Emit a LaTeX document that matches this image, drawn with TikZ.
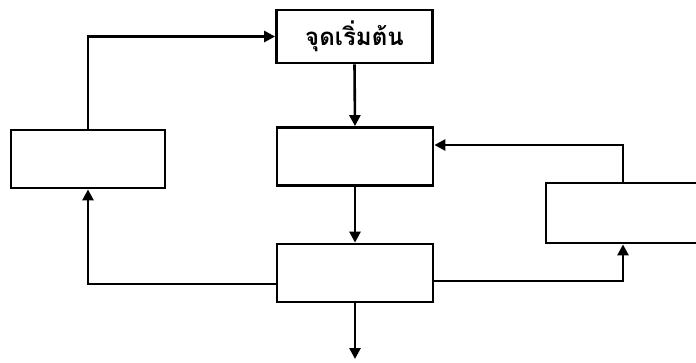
\documentclass[tikz,border=0pt]{standalone}
\usepackage{fontspec}
\newfontfamily\thaifont[Script=Thai]{Loma}
\usetikzlibrary{arrows.meta}
\begin{document}
\begin{tikzpicture}[x=1pt,y=-1pt,
  box/.style={draw,line width=2.8pt,minimum width=156pt,minimum height=58pt,inner sep=0pt},
  flow/.style={line width=2.6pt,-{Triangle[length=11pt,width=11pt]}},
  wire/.style={line width=2.6pt}]
\useasboundingbox (0,0) rectangle (696,362);
% boxes
\node[box,minimum height=53pt] (start) at (354.5,36.5) {\thaifont\bfseries\fontsize{24}{28}\selectfont จุดเริ่มต้น};
\node[box] (mid) at (355,156.5) {};
\node[box] (low) at (355,273) {};
\node[box,minimum width=154pt,minimum height=58pt] (left) at (88,159) {};
\begin{scope}
\clip (0,0) rectangle (696,362);
\node[box,minimum width=170pt,minimum height=60pt] (right) at (631,213) {};
\end{scope}
% main column
\draw[flow] (start.south) -- (mid.north);
\draw[flow] (mid.south) -- (low.north);
\coordinate (out) at (355,359);
\draw[flow] (low.south) -- (out);
% left loop
\draw[flow] (left.north -| 88,0) |- (start.west);
\draw[flow] (low.west |- 0,284) -| (left.south);
% right loop
\draw[flow] (right.north -| 623,0) |- (mid.east |- 0,145);
\draw[flow] (low.east |- 0,281) -| (right.south -| 623,0);
\end{tikzpicture}
\end{document}
